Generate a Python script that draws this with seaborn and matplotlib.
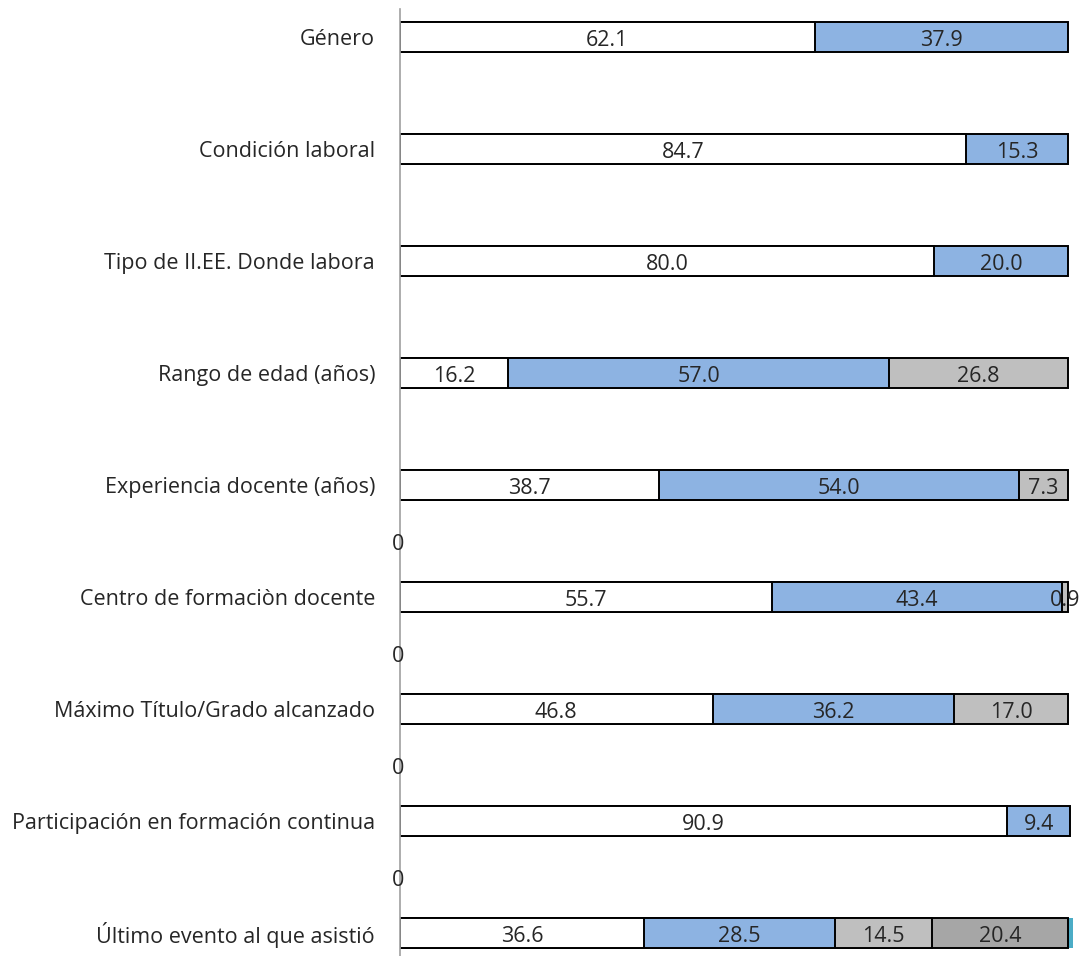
import numpy as np
import pandas as pd
import matplotlib
matplotlib.use("Agg")
import matplotlib.pyplot as plt
import seaborn as sns

# Survey profile: percentage split for each variable
categories = [
    "Género",
    "Condición laboral",
    "Tipo de II.EE. Donde labora",
    "Rango de edad (años)",
    "Experiencia docente (años)",
    "Centro de formaciòn docente",
    "Máximo Título/Grado alcanzado",
    "Participación en formación continua",
    "Último evento al que asistió",
]
seg1 = [62.1, 84.7, 80.0, 16.2, 38.7, 55.7, 46.8, 90.9, 36.6]
seg2 = [37.9, 15.3, 20.0, 57.0, 54.0, 43.4, 36.2, 9.4, 28.5]
seg3 = [None, None, None, 26.8, 7.3, 0.9, 17.0, None, 14.5]
seg4 = [None, None, None, None, None, None, None, None, 20.4]
seg5 = [None, None, None, None, None, None, None, None, 0.8]
seg5_labelled = False

# Empty separator rows whose zero values are labelled (after rows 5-8)
gap_after = [4, 5, 6, 7]
gap_values = [0, 0, 0, 0]

segments = [seg1, seg2, seg3, seg4, seg5]
seg_colors = ["#FFFFFF", "#8DB3E2", "#BFBFBF", "#A6A6A6", "#4BACC6"]
seg_edges = ["black", "black", "black", "black", "none"]

sns.set_theme(style="white")
plt.rcParams["font.family"] = ["Open Sans", "DejaVu Sans"]
text_color = "#262626"
fs = 15.5

fig = plt.figure(figsize=(10.82, 9.56), dpi=100)
px_per_unit = 6.68
xmax = 101
ax_left, ax_right = 400, 400 + px_per_unit * xmax
ax_top, ax_bottom = 9, 961
ax = fig.add_axes([ax_left / 1082, (956 - ax_bottom) / 956,
                   (ax_right - ax_left) / 1082, (ax_bottom - ax_top) / 956])

# Long table with cumulative ends for each segment
rows = []
for k, seg in enumerate(segments):
    cum = np.zeros(len(categories))
    for j in range(k + 1):
        cum += np.array([0 if v is None else v for v in segments[j]])
    for i, cat in enumerate(categories):
        if seg[i] is not None:
            rows.append({"categoria": cat, "segmento": k, "valor": seg[i],
                         "fin": cum[i], "inicio": cum[i] - seg[i]})
df = pd.DataFrame(rows)

# Draw cumulative bars from the outermost segment inward so each covers the next
bar_h = 0.26
for k in reversed(range(len(segments))):
    sub = df[df["segmento"] == k]
    sns.barplot(data=sub, x="fin", y="categoria", order=categories, orient="y",
                color=seg_colors[k], saturation=1, edgecolor=seg_edges[k],
                linewidth=1.4, width=bar_h, errorbar=None, ax=ax)

for _, r in df.iterrows():
    if r["segmento"] == 4 and not seg5_labelled:
        continue
    y = categories.index(r["categoria"])
    ax.annotate(f"{r['valor']:.1f}", ((r["inicio"] + r["fin"]) / 2, y),
                xytext=(0, -2.5), textcoords="offset points",
                ha="center", va="center", fontsize=fs, color=text_color)

for g, v in zip(gap_after, gap_values):
    ax.annotate(f"{v}", (-0.3, g + 0.5), xytext=(0, -2.5),
                textcoords="offset points", ha="center", va="center",
                fontsize=fs, color=text_color, annotation_clip=False)

ax.set_xlim(0, xmax)
ax.set_ylim(8.25, -0.25)
ax.set_xlabel("")
ax.set_ylabel("")
ax.set_xticks([])
for side in ["top", "right", "bottom"]:
    ax.spines[side].set_visible(False)
ax.spines["left"].set_color("#A0A0A0")
ax.spines["left"].set_linewidth(1.2)
ax.tick_params(axis="y", length=0, pad=18, labelsize=fs, labelcolor=text_color)
ax.set_facecolor("none")

fig.savefig("out.png", dpi=100)
